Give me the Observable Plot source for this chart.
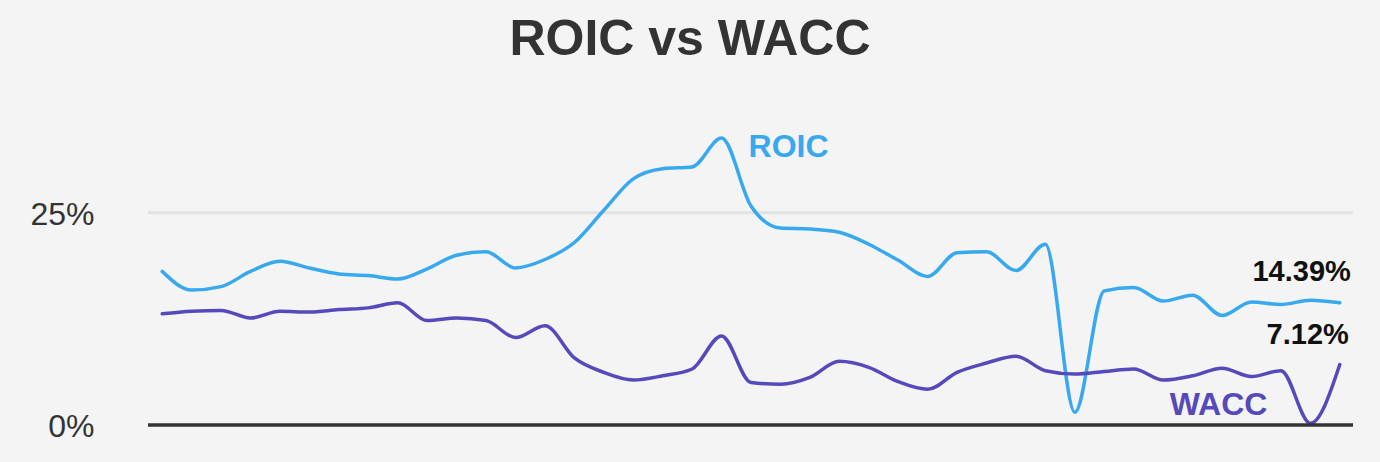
<!DOCTYPE html>
<html>
<head>
<meta charset="utf-8">
<script src="https://cdn.jsdelivr.net/npm/d3@7"></script>
<script src="https://cdn.jsdelivr.net/npm/@observablehq/plot@0.6"></script>
<style>
  html, body { margin: 0; padding: 0; background: #f4f4f4; }
  #wrap { position: relative; width: 1380px; height: 462px; background: #f4f4f4; overflow: hidden; }
  #title { position: absolute; left: 0; top: 13px; width: 1380px; text-align: center;
           font: bold 50px/50px "Liberation Sans", Arial, sans-serif; color: #333; }
  #chart { position: absolute; left: 0; top: 80px; }
</style>
</head>
<body>
<div id="wrap">
  <div id="title">ROIC vs WACC</div>
  <div id="chart"></div>
</div>
<script>
// Quarterly periods (index), values in percent
const periods = [0,1,2,3,4,5,6,7,8,9,10,11,12,13,14,15,16,17,18,19,20,21,22,23,24,25,26,27,28,29,30,31,32,33,34,35,36,37,38,39,40];
const roic = [18.1,15.9,16.3,18.1,19.3,18.5,17.8,17.6,17.2,18.4,20.0,20.4,18.5,19.5,21.5,25.3,29.0,30.2,30.4,33.8,25.8,23.2,23.1,22.7,21.3,19.4,17.5,20.3,20.4,18.2,21.3,1.5,15.8,16.2,14.6,15.3,12.9,14.5,14.2,14.7,14.39];
const wacc = [13.1,13.4,13.5,12.6,13.4,13.3,13.6,13.8,14.4,12.3,12.6,12.3,10.3,11.7,7.9,6.2,5.3,5.8,6.6,10.5,5.0,4.8,5.6,7.5,6.8,5.1,4.2,6.2,7.3,8.1,6.4,6.0,6.3,6.6,5.3,5.8,6.7,5.7,6.4,0.2,7.12];
const yTicks = [0, 25];
const seriesNames = ["ROIC", "WACC"];

const roicColor = "#38a9ef";
const waccColor = "#5649bb";

const rows = periods.map((p, i) => ({p, roic: roic[i], wacc: wacc[i]}));
const last = rows[rows.length - 1];
const roicPeak = rows[d3.maxIndex(rows, d => d.roic)];

const chart = Plot.plot({
  width: 1380,
  height: 382,
  marginLeft: 148,
  marginRight: 27,
  marginTop: 132.3,
  marginBottom: 37.5,
  style: {background: "#f4f4f4", fontFamily: "'Liberation Sans', Arial, sans-serif", overflow: "visible"},
  x: {domain: [0, 40], inset: 13.7, axis: null},
  y: {domain: [0, 25], axis: null},
  marks: [
    Plot.ruleY([25], {stroke: "#e2e2e2", strokeWidth: 3}),
    Plot.axisY({ticks: yTicks, tickFormat: d => d + "%", tickSize: 0, tickPadding: 54, fontSize: 32, fill: "#333", dy: 2, label: null}),
    Plot.lineY(rows, {x: "p", y: "roic", stroke: roicColor, strokeWidth: 3.5, curve: "monotone-x"}),
    Plot.lineY(rows, {x: "p", y: "wacc", stroke: waccColor, strokeWidth: 3.5, curve: "monotone-x"}),
    Plot.ruleY([0], {stroke: "#333", strokeWidth: 3.5}),
    Plot.text([roicPeak], {x: "p", y: "roic", text: () => seriesNames[0], textAnchor: "start", dx: 27, dy: 9, fontSize: 32, fontWeight: "bold", fill: roicColor}),
    Plot.text([rows[36]], {x: "p", y: "wacc", text: () => seriesNames[1], textAnchor: "middle", dx: -3.5, dy: 37, fontSize: 32, fontWeight: "bold", fill: waccColor}),
    Plot.text([last], {x: "p", y: "roic", text: d => d.roic.toFixed(2) + "%", textAnchor: "end", dx: 11, dy: -31.6, fontSize: 29, fontWeight: "bold", fill: "#111"}),
    Plot.text([last], {x: "p", y: "wacc", text: d => d.wacc.toFixed(2) + "%", textAnchor: "end", dx: 9, dy: -29.6, fontSize: 29, fontWeight: "bold", fill: "#111"})
  ]
});
document.getElementById("chart").appendChild(chart);
</script>
</body>
</html>
